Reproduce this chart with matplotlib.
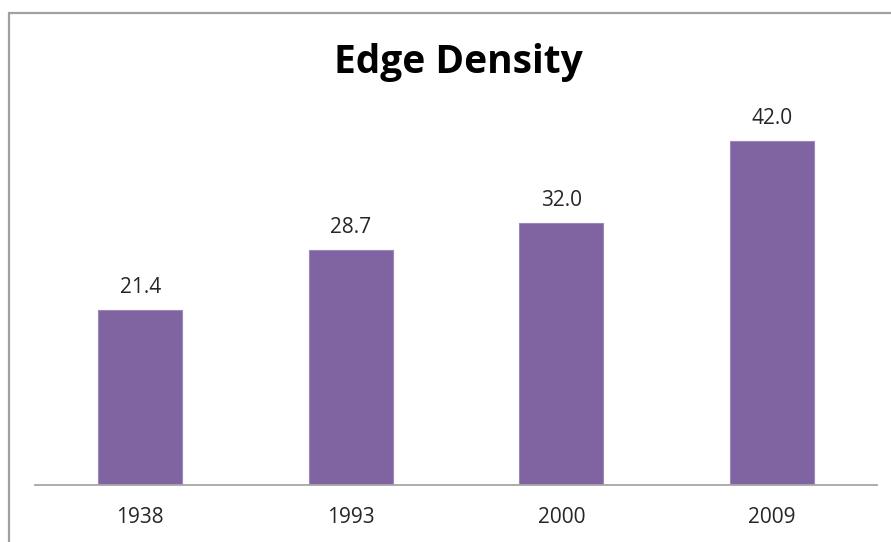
import matplotlib.pyplot as plt
from matplotlib.patches import Rectangle

# data
years = ['1938', '1993', '2000', '2009']
edge_density = [21.4, 28.7, 32.0, 42.0]

plt.rcParams['font.family'] = ['Open Sans', 'DejaVu Sans']

fig = plt.figure(figsize=(8.91, 5.42), dpi=100)
ax = fig.add_axes([0.0393, 0.1052, 0.945, 0.7555])

bars = ax.bar(range(len(years)), edge_density, width=0.4,
              color='#8064A2', edgecolor='#9d86bb', linewidth=0.8)

# value labels above bars
for rect, val in zip(bars, edge_density):
    ax.annotate(f'{val:.1f}', (rect.get_x() + rect.get_width() / 2, val),
                xytext=(0, 12), textcoords='offset points',
                ha='center', va='baseline', fontsize=15, color='#262626')

ax.set_xlim(-0.5, len(years) - 0.5)
ax.set_ylim(0, 50)
ax.set_xticks(range(len(years)))
ax.set_xticklabels(years, fontsize=15, color='#262626')
ax.tick_params(axis='x', length=0, pad=16)
ax.set_yticks([])

for side in ['left', 'right', 'top']:
    ax.spines[side].set_visible(False)
ax.spines['bottom'].set_color('#a6a6a6')
ax.spines['bottom'].set_linewidth(1.3)

fig.text(0.514, 0.865, 'Edge Density', ha='center', va='baseline',
         fontsize=28, fontweight='bold', color='black')

# chart frame (cut off at right and bottom)
frame = Rectangle((0.0104, -0.05), 1.2, 0.9766 + 0.05, transform=fig.transFigure,
                  fill=False, edgecolor='#a0a0a0', linewidth=1.6)
fig.patches.append(frame)

plt.savefig('out.png', dpi=100)
plt.close()
